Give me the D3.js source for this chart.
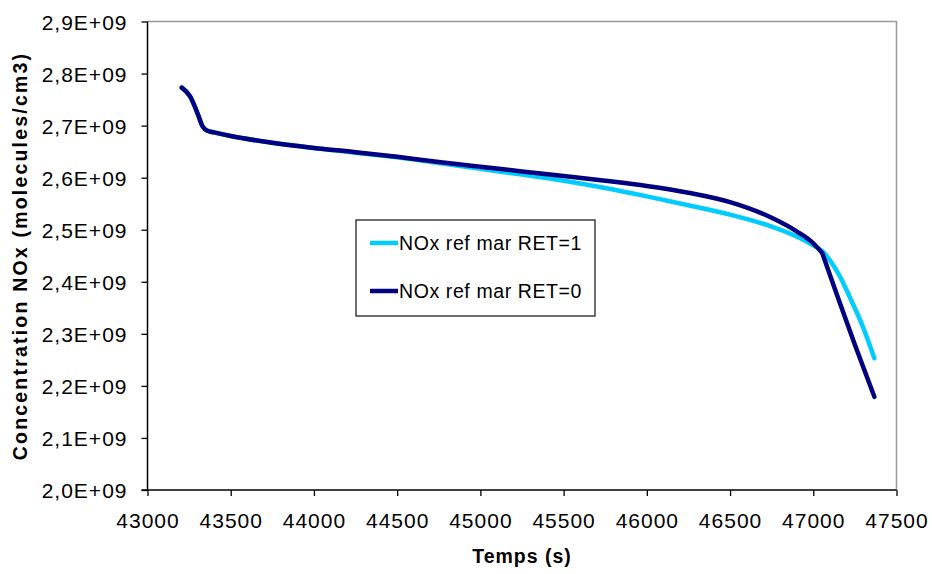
<!DOCTYPE html>
<html><head><meta charset="utf-8">
<script src="https://cdn.jsdelivr.net/npm/d3@7"></script>
<style>body{margin:0;background:#fff}svg{display:block}text{font-family:"Liberation Sans",Arial,sans-serif}</style>
</head><body><svg id="c" width="932" height="574"></svg>
<script>
const xTicks = [43000,43500,44000,44500,45000,45500,46000,46500,47000,47500];
const yTicks = [2.0e9,2.1e9,2.2e9,2.3e9,2.4e9,2.5e9,2.6e9,2.7e9,2.8e9,2.9e9];
const yTickLabels = ["2,0E+09","2,1E+09","2,2E+09","2,3E+09","2,4E+09","2,5E+09","2,6E+09","2,7E+09","2,8E+09","2,9E+09"];
const seriesNames = ["NOx ref mar RET=1","NOx ref mar RET=0"];
const timeRet1 = [43206,43256,43300,43332,43360,43400,43500,43750,44000,44250,44500,44750,45000,45250,45500,45750,46000,46250,46500,46750,46900,47000,47060,47100,47150,47227,47300,47367];
const noxRet1 = [2.773e9,2.756e9,2.724e9,2.698e9,2.690e9,2.687e9,2.680e9,2.667e9,2.657e9,2.648e9,2.639e9,2.628e9,2.617e9,2.606e9,2.594e9,2.580e9,2.564e9,2.547e9,2.529e9,2.506e9,2.487e9,2.470e9,2.457e9,2.441e9,2.416e9,2.365e9,2.312e9,2.253e9];
const timeRet0 = [43206,43256,43300,43332,43360,43400,43500,43750,44000,44250,44500,44750,45000,45250,45500,45750,46000,46250,46500,46750,46900,47000,47054,47150,47250,47367];
const noxRet0 = [2.773e9,2.756e9,2.724e9,2.698e9,2.690e9,2.687e9,2.680e9,2.667e9,2.657e9,2.649e9,2.640e9,2.630e9,2.621e9,2.612e9,2.603e9,2.594e9,2.584e9,2.571e9,2.553e9,2.523e9,2.497e9,2.474e9,2.455e9,2.368e9,2.279e9,2.179e9];
const colors = ["#00ccff","#000080"];

const svg = d3.select("#c");
const L=147.5, R=896.5, T=21.5, B=490;
const x = d3.scaleLinear().domain([43000,47500]).range([L,R]);
const y = d3.scaleLinear().domain([2.0e9,2.9e9]).range([B,T]);

svg.append("path").attr("d",`M${L},${T}H${R}V${B}`).attr("fill","none").attr("stroke","#999").attr("stroke-width",1.5);

const smooth = d3.line().x(d=>x(d[0])).y(d=>y(d[1])).curve(d3.curveMonotoneX);
const data1 = timeRet1.map((t,i)=>[t,noxRet1[i]]);
const data0 = timeRet0.map((t,i)=>[t,noxRet0[i]]);
svg.append("path").datum(data1).attr("d",smooth).attr("fill","none").attr("stroke",colors[0]).attr("stroke-width",4.5).attr("stroke-linejoin","round").attr("stroke-linecap","round");
const k = timeRet0.indexOf(47054);
const p0 = smooth(data0.slice(0,k+1));
const p1 = smooth(data0.slice(k));
svg.append("path").attr("d",p0+p1.replace(/^M/,"L")).attr("fill","none").attr("stroke",colors[1]).attr("stroke-width",4.5).attr("stroke-linejoin","round").attr("stroke-linecap","round");

const xAxis = d3.axisBottom(x).tickValues(xTicks).tickSize(6).tickSizeOuter(0).tickFormat(d3.format("d"));
const gx = svg.append("g").attr("transform",`translate(0,${B})`).call(xAxis);
gx.select(".domain").attr("stroke","#000").attr("stroke-width",1.5).attr("d",`M${L-6},0H${R}`);
gx.selectAll(".tick line").attr("stroke","#000").attr("stroke-width",1.3);
gx.selectAll(".tick text").attr("fill","#000").attr("font-size",21).attr("letter-spacing",1).attr("dy",0).attr("y",38);

const yAxis = d3.axisLeft(y).tickValues(yTicks).tickSize(6).tickSizeOuter(0).tickFormat((d,i)=>yTickLabels[i]);
const gy = svg.append("g").attr("transform",`translate(${L},0)`).call(yAxis);
gy.select(".domain").attr("stroke","#000").attr("stroke-width",1.5).attr("d",`M0,${T}V${B}`);
gy.selectAll(".tick line").attr("stroke","#000").attr("stroke-width",1.3);
gy.selectAll(".tick text").attr("fill","#000").attr("font-size",21).attr("letter-spacing",1).attr("x",-20).attr("dy","0.36em");
svg.selectAll(".tick text").attr("font-family","Liberation Sans, Arial, sans-serif");

svg.append("text").attr("x",522).attr("y",563).attr("text-anchor","middle").attr("font-weight","bold")
  .attr("font-size",19.5).attr("letter-spacing",1).text("Temps (s)");
svg.append("text").attr("transform","translate(27,256) rotate(-90)").attr("text-anchor","middle").attr("font-weight","bold")
  .attr("font-size",19.5).attr("letter-spacing",2.2).text("Concentration NOx (molecules/cm3)");

const lg = svg.append("g");
lg.append("rect").attr("x",356).attr("y",220).attr("width",239).attr("height",96).attr("fill","#fff").attr("stroke","#222").attr("stroke-width",1.3);
seriesNames.forEach((n,i)=>{
  const yy = 243 + i*48;
  lg.append("line").attr("x1",370).attr("x2",398).attr("y1",yy).attr("y2",yy).attr("stroke",colors[i]).attr("stroke-width",4.5);
  lg.append("text").attr("x",399).attr("y",yy).attr("dy","0.36em").attr("font-size",19.5).attr("letter-spacing",0.6).text(n);
});
</script></body></html>
